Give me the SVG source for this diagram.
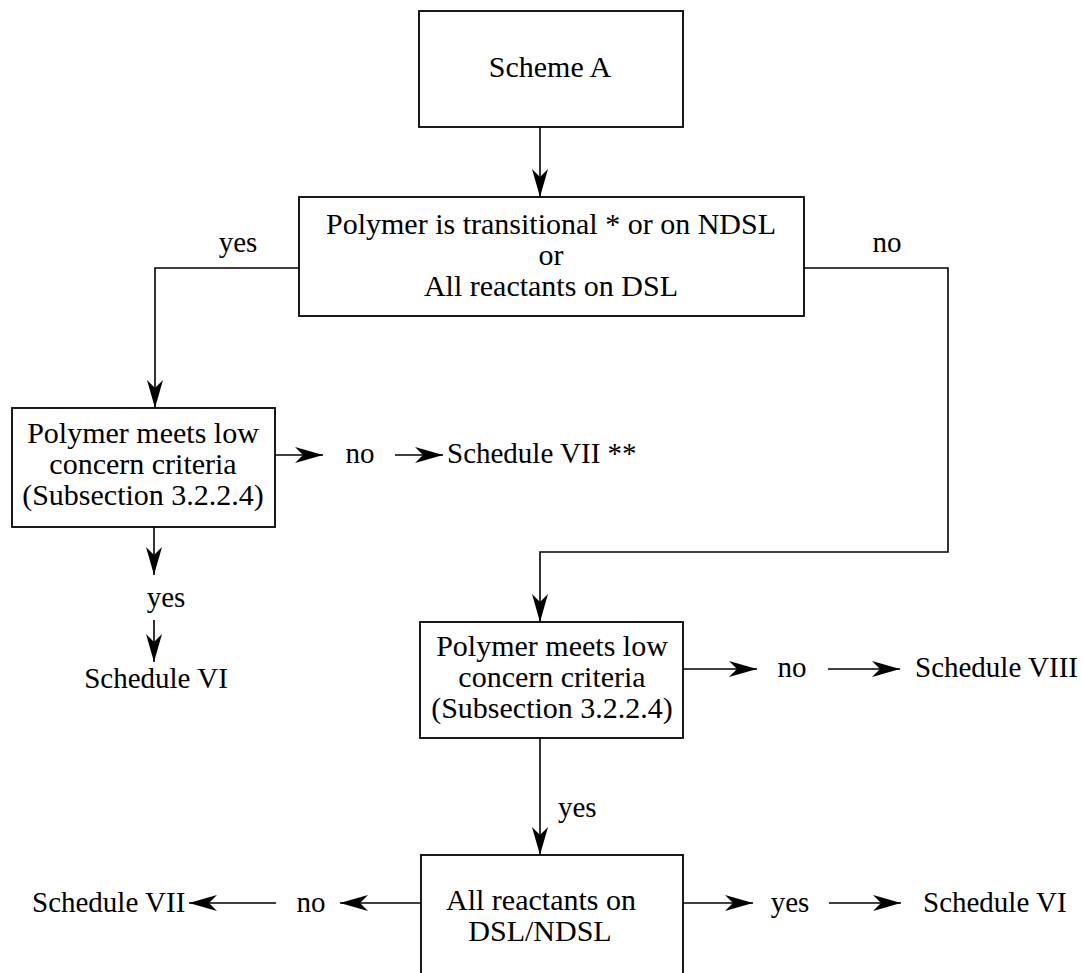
<svg xmlns="http://www.w3.org/2000/svg" width="1082" height="973" viewBox="0 0 1082 973">
<style>
  .box { fill: #ffffff; stroke: #000000; stroke-width: 1.8; }
  .edge { fill: none; stroke: #000000; stroke-width: 1.6; }
  text { font-family: "Liberation Serif", "Times New Roman", serif; font-size: 29px; fill: #000000; }
  .bt { font-size: 30px; }
  .c { text-anchor: middle; }
</style>
<defs>
  <marker id="arr" markerUnits="userSpaceOnUse" markerWidth="30" markerHeight="18" refX="28" refY="8" orient="auto" overflow="visible">
    <path d="M0,0 L28,8 L0,16 L8,8 Z" fill="#000000"/>
  </marker>
</defs>
<rect width="1082" height="973" fill="#ffffff"/>

<g id="connectors">
  <path class="edge" d="M540,127 V197" marker-end="url(#arr)"/>
  <path class="edge" d="M299,268 H155 V408" marker-end="url(#arr)"/>
  <path class="edge" d="M804,268 H948 V552 H540 V622" marker-end="url(#arr)"/>
  <path class="edge" d="M275,455 H323" marker-end="url(#arr)"/>
  <path class="edge" d="M395,455 H443" marker-end="url(#arr)"/>
  <path class="edge" d="M154,527 V575" marker-end="url(#arr)"/>
  <path class="edge" d="M154,620 V662" marker-end="url(#arr)"/>
  <path class="edge" d="M683,669 H757" marker-end="url(#arr)"/>
  <path class="edge" d="M828,669 H900" marker-end="url(#arr)"/>
  <path class="edge" d="M540,738 V855" marker-end="url(#arr)"/>
  <path class="edge" d="M421,903 H340" marker-end="url(#arr)"/>
  <path class="edge" d="M276,903 H189" marker-end="url(#arr)"/>
  <path class="edge" d="M683,903 H753" marker-end="url(#arr)"/>
  <path class="edge" d="M829,903 H901" marker-end="url(#arr)"/>
  <text class="c" x="238" y="252">yes</text>
  <text class="c" x="887" y="252">no</text>
  <text class="c" x="360" y="463">no</text>
  <text class="c" x="166" y="607">yes</text>
  <text class="c" x="792" y="677">no</text>
  <text x="558" y="817">yes</text>
  <text class="c" x="311" y="912">no</text>
  <text class="c" x="790" y="912">yes</text>
</g>

<g id="scheme-a">
  <rect class="box" x="419" y="11" width="264" height="116"/>
  <text class="c bt" x="550" y="77">Scheme A</text>
</g>

<g id="transitional">
  <rect class="box" x="299" y="197" width="505" height="119"/>
  <text class="c bt" x="551" y="234">Polymer is transitional * or on NDSL</text>
  <text class="c bt" x="551" y="265">or</text>
  <text class="c bt" x="551" y="296">All reactants on DSL</text>
</g>

<g id="low-concern-left">
  <rect class="box" x="12" y="408" width="263" height="119"/>
  <text class="c bt" x="143" y="443">Polymer meets low</text>
  <text class="c bt" x="143" y="474">concern criteria</text>
  <text class="c bt" x="143" y="505">(Subsection 3.2.2.4)</text>
</g>

<g id="schedule-vii-star">
  <text x="447" y="463">Schedule VII **</text>
</g>

<g id="schedule-vi-left">
  <text class="c" x="156" y="688">Schedule VI</text>
</g>

<g id="low-concern-mid">
  <rect class="box" x="420" y="622" width="263" height="116"/>
  <text class="c bt" x="552" y="656">Polymer meets low</text>
  <text class="c bt" x="552" y="687">concern criteria</text>
  <text class="c bt" x="552" y="718">(Subsection 3.2.2.4)</text>
</g>

<g id="schedule-viii">
  <text x="915" y="677">Schedule VIII</text>
</g>

<g id="reactants">
  <rect class="box" x="421" y="855" width="262" height="140"/>
  <text class="c bt" x="541" y="910">All reactants on</text>
  <text class="c bt" x="540" y="941">DSL/NDSL</text>
</g>

<g id="schedule-vii-bottom">
  <text x="32" y="912">Schedule VII</text>
</g>

<g id="schedule-vi-bottom">
  <text x="923" y="912">Schedule VI</text>
</g>
</svg>
